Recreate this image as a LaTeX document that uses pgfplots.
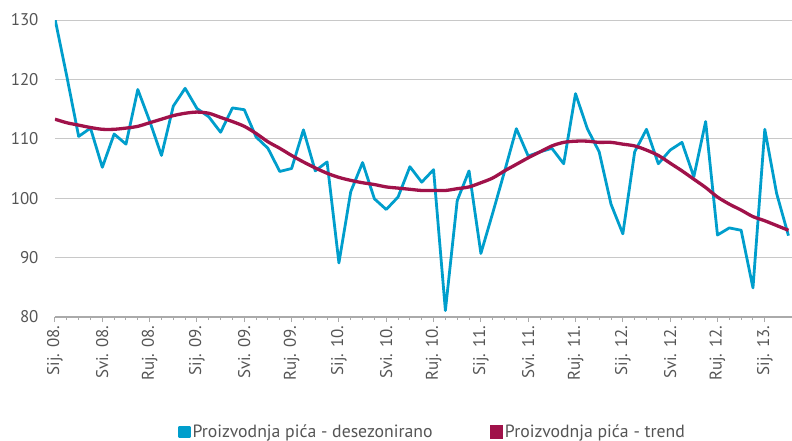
\documentclass[border=0pt]{standalone}
\usepackage{pgfplots}
\pgfplotsset{compat=1.18}
\usepackage{fontspec}
\setmainfont{PT Sans}
\definecolor{cblue}{RGB}{0,158,204}
\definecolor{cred}{RGB}{160,18,74}
\definecolor{ctext}{RGB}{85,85,85}
\definecolor{cgrid}{RGB}{200,200,200}
\definecolor{caxis}{RGB}{170,170,170}
\begin{document}
\begin{tikzpicture}
\begin{axis}[
  scale only axis,
  width=737bp, height=297bp,
  xmin=0, xmax=62.3,
  ymin=80, ymax=130,
  ytick={80,90,...,130},
  xtick={0,4,...,60},
  xticklabels={Sij. 08.,Svi. 08.,Ruj. 08.,Sij. 09.,Svi. 09.,Ruj. 09.,Sij. 10.,Svi. 10.,Ruj. 10.,Sij. 11.,Svi. 11.,Ruj. 11.,Sij. 12.,Svi. 12.,Ruj. 12.,Sij. 13.},
  minor x tick num=3,
  axis lines*=left,
  y axis line style={draw=none},
  x axis line style={draw=caxis, line width=1.5bp},
  ytick style={draw=none},
  xtick style={draw=caxis, line width=1bp},
  tick align=outside,
  major tick length=5bp,
  minor tick length=3bp,
  ymajorgrids,
  grid style={draw=cgrid, line width=1bp},
  /pgf/number format/assume math mode=true,
  tick label style={font=\fontsize{17}{19}\selectfont, text=ctext},
  x tick label style={rotate=90, anchor=east, yshift=0bp},
  y tick label style={xshift=-8bp},
  clip=true,
  legend style={draw=none, fill=none, at={(0.512,-0.387)}, anchor=center,
    font=\fontsize{17.8}{19}\selectfont, text=ctext, legend columns=2,
    /tikz/every even column/.append style={column sep=55bp}},
  legend image code/.code={\fill[#1] (0bp,-5bp) rectangle (10bp,5bp);},
]
\addplot[cblue, line width=2.8bp, line join=round] coordinates {
(0,130.2)(1,120.5)(2,110.4)(3,111.8)(4,105.2)(5,110.8)(6,109.1)(7,118.3)(8,113.0)(9,107.2)
(10,115.5)(11,118.5)(12,115.1)(13,113.7)(14,111.1)(15,115.2)(16,114.9)(17,110.3)(18,108.4)(19,104.5)
(20,105.0)(21,111.5)(22,104.6)(23,106.1)(24,89.1)(25,101.1)(26,106.0)(27,99.9)(28,98.1)(29,100.2)
(30,105.3)(31,102.7)(32,104.8)(33,81.1)(34,99.6)(35,104.6)(36,90.7)(37,97.5)(38,104.5)(39,111.7)
(40,107.1)(41,107.8)(42,108.4)(43,105.8)(44,117.6)(45,111.7)(46,107.8)(47,99.0)(48,94.0)(49,107.8)
(50,111.6)(51,105.8)(52,108.1)(53,109.4)(54,103.6)(55,112.9)(56,93.8)(57,95.0)(58,94.6)(59,84.9)
(60,111.6)(61,100.8)(62,93.7)
};
\addlegendentry{Proizvodnja pića - desezonirano}
\addplot[cred, line width=3.3bp, smooth] coordinates {
(0,113.3)(1,112.7)(2,112.3)(3,111.9)(4,111.6)(5,111.6)(6,111.8)(7,112.1)(8,112.7)(9,113.3)
(10,113.9)(11,114.3)(12,114.5)(13,114.3)(14,113.6)(15,112.9)(16,112.1)(17,110.9)(18,109.5)(19,108.4)
(20,107.2)(21,106.1)(22,105.1)(23,104.2)(24,103.5)(25,103.0)(26,102.6)(27,102.3)(28,101.9)(29,101.7)
(30,101.5)(31,101.3)(32,101.3)(33,101.3)(34,101.6)(35,101.9)(36,102.6)(37,103.4)(38,104.6)(39,105.7)
(40,106.8)(41,107.8)(42,108.8)(43,109.4)(44,109.6)(45,109.6)(46,109.4)(47,109.4)(48,109.1)(49,108.8)
(50,108.1)(51,107.2)(52,105.9)(53,104.6)(54,103.2)(55,101.8)(56,100.2)(57,99.0)(58,98.0)(59,96.9)
(60,96.2)(61,95.4)(62,94.6)
};
\addlegendentry{Proizvodnja pića - trend}
\coordinate (bl) at (rel axis cs:0,0);
\coordinate (tr) at (rel axis cs:1,1);
\end{axis}
\pgfresetboundingbox
\path[use as bounding box] ([xshift=-55bp,yshift=-124bp]bl) rectangle ([yshift=20bp]tr);
\end{tikzpicture}
\end{document}
